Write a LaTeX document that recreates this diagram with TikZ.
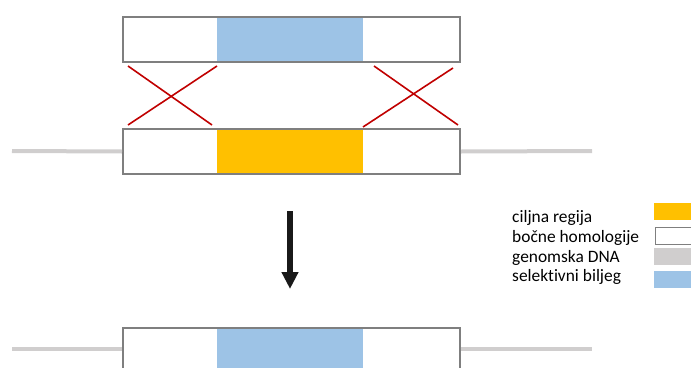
\documentclass[tikz,border=0pt]{standalone}
\usepackage{fontspec}
\setmainfont[Ligatures=NoCommon]{Carlito}
\usetikzlibrary{arrows.meta}
\definecolor{selblue}{HTML}{9DC3E6}
\definecolor{tgtorange}{HTML}{FFC000}
\definecolor{genogray}{HTML}{D0CECE}
\definecolor{boxgray}{HTML}{7F7F7F}
\definecolor{crossred}{HTML}{C00000}
\tikzset{
  genline/.style={draw=genogray, line width=4pt},
  boxframe/.style={draw=boxgray, line width=2pt, fill=none},
  crossline/.style={draw=crossred, line width=1.6pt},
  swatch/.style={minimum width=40pt, minimum height=17pt, inner sep=0pt, anchor=north west},
  legtext/.style={anchor=base west, inner sep=0pt, font=\fontsize{17.4}{20}\selectfont},
}
\begin{document}
\begin{tikzpicture}[x=1pt,y=-1pt]
\useasboundingbox (0,0) rectangle (691,367);
\clip (0,0) rectangle (691,367);
% top construct
\fill[selblue] (217,16) rectangle (363,61);
\node[boxframe, minimum width=337pt, minimum height=45pt, inner sep=0pt, anchor=north west] (top) at (122,16) {};
% genome
\fill[tgtorange] (217,128) rectangle (363,173);
\node[boxframe, minimum width=337pt, minimum height=45pt, inner sep=0pt, anchor=north west] (mid) at (122,128) {};
\coordinate (gL1) at (12,151);
\coordinate (gR1) at (592,151);
\draw[genline] (gL1) -- (mid.west);
\draw[genline] (mid.east) -- (gR1);
% crosses
\coordinate (c1a) at (128,66); \coordinate (c1b) at (212,125);
\coordinate (c1c) at (128,125); \coordinate (c1d) at (217,66);
\coordinate (c2a) at (374,66); \coordinate (c2b) at (458,125);
\coordinate (c2c) at (363,127); \coordinate (c2d) at (453,68);
\draw[crossline] (c1a) -- (c1b);
\draw[crossline] (c1c) -- (c1d);
\draw[crossline] (c2a) -- (c2b);
\draw[crossline] (c2c) -- (c2d);
% arrow
\coordinate (as) at (290,211);
\coordinate (ae) at (290,289);
\draw[line width=6pt, draw=black!90, -{Triangle[width=16pt,length=17pt]}] (as) -- (ae);
% result
\fill[selblue] (217,327) rectangle (363,372);
\node[boxframe, minimum width=337pt, minimum height=45pt, inner sep=0pt, anchor=north west] (bot) at (122,327) {};
\coordinate (gL2) at (12,349);
\coordinate (gR2) at (592,349);
\draw[genline] (gL2) -- (bot.west |- gL2);
\draw[genline] (bot.east |- gR2) -- (gR2);
% legend
\node[legtext] (l1) at (512,222) {ciljna regija};
\node[legtext] (l2) at (512,242) {bočne homologije};
\node[legtext] (l3) at (512,262) {genomska DNA};
\node[legtext] (l4) at (512,281) {selektivni biljeg};
\node[swatch, fill=tgtorange] (s1) at (654,203) {};
\node[swatch, fill=white, draw=boxgray, line width=0.8pt] (s2) at (654.5,227) {};
\node[swatch, fill=genogray] (s3) at (654,248) {};
\node[swatch, fill=selblue] (s4) at (654,271) {};
\end{tikzpicture}
\end{document}
